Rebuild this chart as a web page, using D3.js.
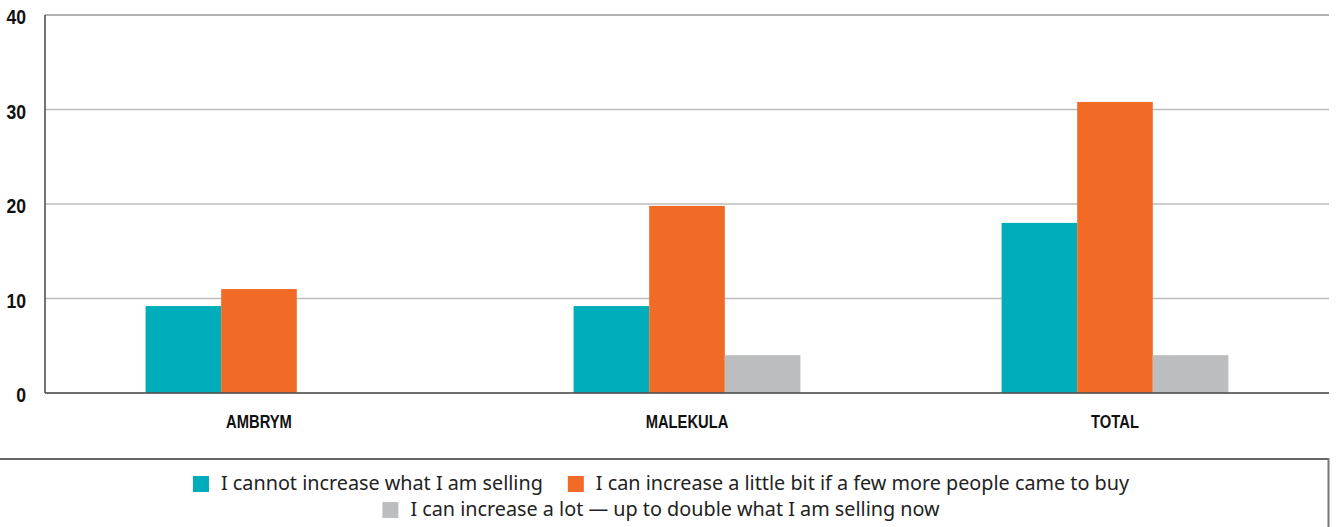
<!DOCTYPE html>
<html><head><meta charset="utf-8">
<script src="https://cdn.jsdelivr.net/npm/d3@7"></script>
<style>
html,body{margin:0;padding:0;background:#fff;}
svg{display:block;}
</style></head>
<body>
<svg id="chart" width="1336" height="527"></svg>
<script>
const categories = ["AMBRYM", "MALEKULA", "TOTAL"];
const seriesNames = [
  "I cannot increase what I am selling",
  "I can increase a little bit if a few more people came to buy",
  "I can increase a lot \u2014 up to double what I am selling now"
];
const cannotIncrease = [9.2, 9.2, 18];
const increaseLittle = [11, 19.8, 30.8];
const increaseLot = [0, 4, 4];
const yTicks = [0, 10, 20, 30, 40];
const colors = ["#00ADBB", "#F26B26", "#BCBDBF"];

const series = [cannotIncrease, increaseLittle, increaseLot];
const svg = d3.select("#chart");
const m = {left: 45, right: 1329, top: 15, bottom: 393};

const x = d3.scaleBand().domain(categories).range([m.left, m.right])
  .paddingInner(0.47).paddingOuter(0.235);
const xs = d3.scaleBand().domain(d3.range(series.length)).range([0, x.bandwidth()]);
const y = d3.scaleLinear().domain([0, 40]).range([m.bottom, m.top]);

// gridlines
svg.append("g").selectAll("line").data(yTicks.filter(d => d > 0)).join("line")
  .attr("x1", m.left).attr("x2", m.right)
  .attr("y1", d => y(d)).attr("y2", d => y(d))
  .attr("stroke", d => d === 40 ? "#999" : "#bdbdbd").attr("stroke-width", 1.5);

// bars
const rows = [];
categories.forEach((c, i) => series.forEach((s, j) => rows.push({c, j, v: s[i]})));
svg.append("g").selectAll("rect").data(rows.filter(d => d.v > 0)).join("rect")
  .attr("x", d => x(d.c) + xs(d.j))
  .attr("width", xs.bandwidth())
  .attr("y", d => y(d.v))
  .attr("height", d => y(0) - y(d.v))
  .attr("fill", d => colors[d.j]);

// axes lines
svg.append("line").attr("x1", m.left).attr("x2", m.left).attr("y1", m.top).attr("y2", m.bottom)
  .attr("stroke", "#444").attr("stroke-width", 1.5);
svg.append("line").attr("x1", m.left).attr("x2", m.right).attr("y1", y(0)).attr("y2", y(0))
  .attr("stroke", "#555").attr("stroke-width", 2).attr("stroke-opacity", 0.85);

const condFont = "'Liberation Sans','Arial',sans-serif";
// y tick labels (condensed via horizontal scale)
svg.append("g").selectAll("text").data(yTicks).join("text")
  .attr("transform", d => `translate(26,${y(d) + 4}) scale(0.88,1)`)
  .attr("text-anchor", "end").attr("dominant-baseline", "middle")
  .attr("font-family", condFont)
  .attr("font-weight", "bold").attr("font-size", 20).attr("fill", "#111")
  .text(d => d);

// category labels
svg.append("g").selectAll("text").data(categories).join("text")
  .attr("transform", d => `translate(${x(d) + x.bandwidth() / 2},428) scale(0.82,1)`)
  .attr("text-anchor", "middle")
  .attr("font-family", condFont)
  .attr("font-weight", "bold").attr("font-size", 18).attr("fill", "#111")
  .text(d => d);

// legend frame
svg.append("line").attr("x1", 0).attr("x2", 1329).attr("y1", 459).attr("y2", 459)
  .attr("stroke", "#666").attr("stroke-width", 2);
svg.append("line").attr("x1", 1328.5).attr("x2", 1328.5).attr("y1", 458).attr("y2", 527)
  .attr("stroke", "#777").attr("stroke-width", 2);

// legend
const legFont = "'Noto Sans',sans-serif";
const legSize = 19.8;
const legRows = [[0, 1], [2]];
const legY = [484, 510];
const cx = 661;
legRows.forEach((r, ri) => {
  const g = svg.append("g");
  let xpos = 0;
  r.forEach((si, k) => {
    const it = g.append("g").attr("transform", `translate(${xpos},0)`);
    it.append("rect").attr("x", 0).attr("y", legY[ri] - 8).attr("width", 16).attr("height", 16)
      .attr("fill", colors[si]);
    const t = it.append("text").attr("x", 28).attr("y", legY[ri] + 6)
      .attr("font-family", legFont).attr("font-size", legSize).attr("fill", "#222")
      .text(seriesNames[si]);
    xpos += 28 + t.node().getComputedTextLength() + 25;
  });
  const w = xpos - 25;
  g.attr("transform", `translate(${cx - w / 2},0)`);
});
</script>
</body></html>
